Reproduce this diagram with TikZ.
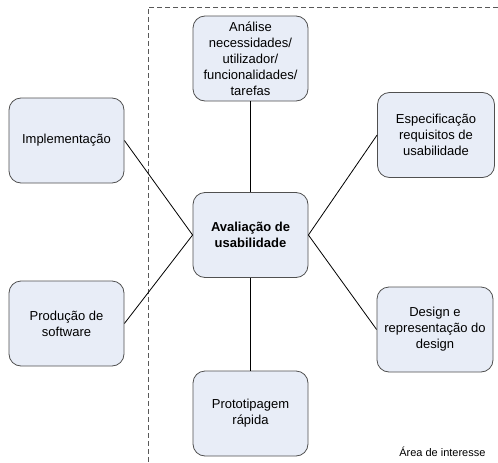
\documentclass[tikz,border=0pt]{standalone}
\usepackage{fontspec}
\setmainfont{Liberation Sans}
\usepackage{tikz}
\usetikzlibrary{positioning}

\definecolor{boxfill}{HTML}{E8EDF7}
\definecolor{boxline}{HTML}{505050}

\tikzset{
  box/.style = {draw = boxline, fill = boxfill, shape = rectangle, rounded corners = 12pt,
    minimum width = 115pt, minimum height = 85pt, align = center, line width = 0.8pt,
    font = \fontsize{13}{16}\selectfont},
  link/.style = {draw = black, line width = 0.8pt}
}

\begin{document}
\begin{tikzpicture}[x = 1pt, y = -1pt]
\useasboundingbox (0,0) rectangle (498,463);
% area de interesse
\coordinate (cornerA) at (148,7);
\coordinate (cornerB) at (498,7);
\coordinate (cornerC) at (148,463);
\draw[black!65, dash pattern = on 5pt off 3pt, line width = 0.8pt] (cornerB) -- (cornerA) -- (cornerC);
\node[anchor = east, font = \fontsize{11}{13}\selectfont] (area) at (489,452) {Área de interesse};

\node[box, font = \fontsize{13}{16}\selectfont\bfseries] (aval) at (250.5,235) {Avaliação de\\usabilidade};
\node[box] (analise) at (250.5,58.5) {Análise\\necessidades/\\utilizador/\\funcionalidades/\\tarefas};
\node[box] (proto) at (250.5,413.5) {Prototipagem\\rápida};
\node[box] (impl) at (66.5,140.5) {Implementação};
\node[box] (prod) at (66.5,323.5) {Produção de\\software};
\node[box, minimum width = 117pt] (espec) at (436,135) {Especificação\\requisitos de\\usabilidade};
\node[box, minimum width = 116pt] (design) at (435,329.5) {Design e\\representação do\\design};

% ligacoes
\path[link] (analise) -- (aval);
\path[link] (aval) -- (proto);
\path[link] (impl.east) -- (aval.west);
\path[link] (prod.east) -- (aval.west);
\path[link] (espec.west) -- (aval.east);
\path[link] (design.west) -- (aval.east);
\end{tikzpicture}
\end{document}
